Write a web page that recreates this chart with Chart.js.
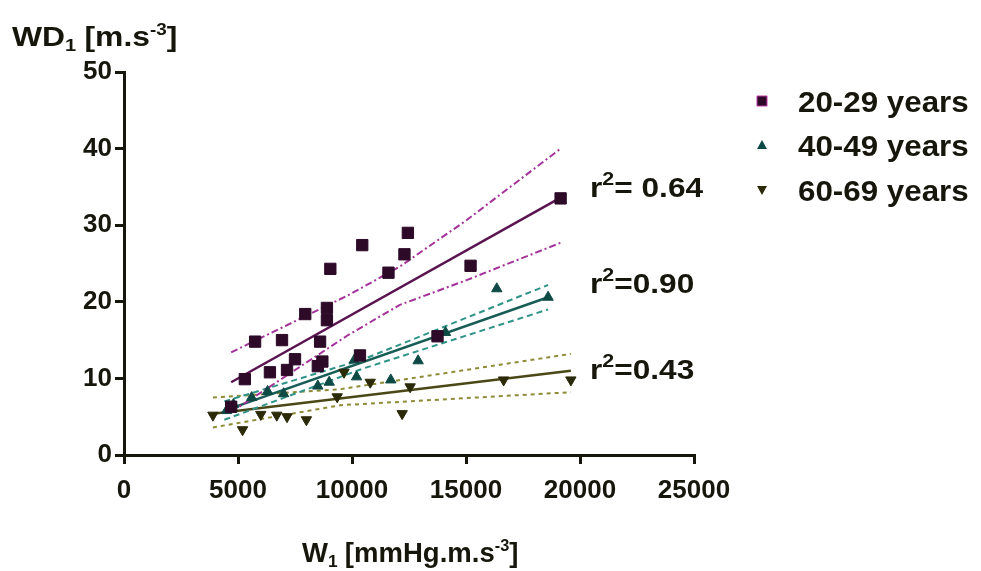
<!DOCTYPE html>
<html>
<head>
<meta charset="utf-8">
<script src="https://cdn.jsdelivr.net/npm/chart.js@4.4.1/dist/chart.umd.min.js"></script>
<style>
  body { margin: 0; background: #fff; }
  canvas { display: block; }
</style>
</head>
<body>
<canvas id="chart" width="981" height="571"></canvas>
<script>
// 20-29 years
let youngX = [4700, 5300, 5750, 6400, 6930, 7150, 7500, 7950, 8500, 8600, 8700, 8900, 8900, 9050, 10350, 10450, 11600, 12300, 12450, 13750, 15200, 19150];
let youngY = [6.3, 9.9, 14.8, 10.8, 15.0, 11.1, 12.5, 18.4, 11.6, 14.8, 12.2, 19.2, 17.6, 24.3, 13.0, 27.4, 23.8, 26.2, 29.0, 15.5, 24.7, 33.5];
// 40-49 years
let midX = [4500, 4800, 5600, 6300, 7000, 8500, 9000, 10100, 10200, 11700, 12900, 14100, 16350, 18600];
let midY = [5.8, 6.6, 7.5, 8.3, 8.0, 9.0, 9.5, 12.4, 10.2, 9.8, 12.3, 16.0, 21.7, 20.6];
// 60-69 years
let oldX = [3900, 5200, 6000, 6700, 7150, 8000, 9350, 9650, 10800, 12200, 12550, 16650, 19600];
let oldY = [5.2, 3.3, 5.3, 5.2, 5.0, 4.6, 7.6, 10.8, 9.5, 5.4, 8.9, 9.8, 9.8];

// regression lines and 95% bands
let youngFitX = [4700, 19150];
let youngFitY = [9.5, 33.6];
let youngBandX = [4700, 9800, 12100, 15000, 19150];
let youngUpper = [13.4, 20.8, 24.6, 30.6, 40.0];
let youngLower = [5.6, 15.6, 19.6, 22.8, 27.7];

let midFitX = [4400, 18600];
let midFitY = [5.8, 20.6];
let midBandX = [4400, 10500, 18600];
let midUpper = [7.0, 12.5, 22.2];
let midLower = [4.6, 11.3, 19.0];

let oldFitX = [3900, 19600];
let oldFitY = [5.4, 11.0];
let oldBandX = [3900, 9500, 19600];
let oldUpper = [7.5, 8.6, 13.2];
let oldLower = [3.6, 6.5, 8.2];

let groups = ["20-29 years", "40-49 years", "60-69 years"];
let r2Labels = ["= 0.64", "=0.90", "=0.43"];

const INK = "#16160c";
const FONT = "'Liberation Sans', Arial, sans-serif";

function pts(xs, ys) {
    return xs.map((x, i) => ({x: x, y: ys[i]}));
}

function markers(label, xs, ys, style, color, rot, radius) {
    return {
        label: label,
        data: pts(xs, ys),
        pointStyle: style,
        pointRotation: rot,
        pointRadius: radius,
        backgroundColor: color,
        borderColor: color,
        borderWidth: 1,
        showLine: false,
        order: 0
    };
}

function line(xs, ys, color, width, dash) {
    return {
        data: pts(xs, ys),
        showLine: true,
        borderColor: color,
        borderWidth: width,
        borderDash: dash,
        pointRadius: 0,
        fill: false,
        order: 1
    };
}

// draws runs of [text, size, dy] side by side, stretched a little horizontally like the scan
function runs(ctx, x, y, parts, sx) {
    ctx.save();
    ctx.translate(x, y);
    ctx.scale(sx, 1);
    let cx = 0;
    parts.forEach(p => {
        ctx.font = "bold " + p[1] + "px " + FONT;
        ctx.fillText(p[0], cx, p[2] || 0);
        cx += ctx.measureText(p[0]).width + (p[3] || 0);
    });
    ctx.restore();
}

const textPlugin = {
    id: "texts",
    afterDraw(chart) {
        let ctx = chart.ctx;
        ctx.save();
        ctx.fillStyle = INK;
        ctx.textBaseline = "alphabetic";
        ctx.textAlign = "left";

        runs(ctx, 12, 46, [["WD", 27], ["1", 17, 5, 7], ["[m.s", 27], ["-3", 16, -11], ["]", 27]], 1.18);
        runs(ctx, 302, 562, [["W", 27], ["1", 17, 5, 7], ["[mmHg.m.s", 27], ["-3", 16, -11], ["]", 27]], 1.02);

        let r2Y = [197, 293, 379];
        r2Labels.forEach((t, i) => {
            runs(ctx, 590, r2Y[i], [["r", 28], ["2", 19, -12], [t, 28]], 1.13);
        });

        let legY = [101, 145, 190];
        groups.forEach((g, i) => {
            let mx = 762, my = legY[i];
            ctx.beginPath();
            if (i == 0) {
                ctx.fillStyle = "#2c0a28";
                ctx.strokeStyle = "#c23aa8";
                ctx.lineWidth = 1;
                ctx.rect(mx - 5, my - 5, 10, 10);
                ctx.fill();
                ctx.stroke();
            } else if (i == 1) {
                ctx.fillStyle = "#0e4a45";
                ctx.moveTo(mx, my - 5);
                ctx.lineTo(mx + 5, my + 4);
                ctx.lineTo(mx - 5, my + 4);
                ctx.closePath();
                ctx.fill();
            } else {
                ctx.fillStyle = "#2a2908";
                ctx.moveTo(mx - 5, my - 4);
                ctx.lineTo(mx + 5, my - 4);
                ctx.lineTo(mx, my + 5);
                ctx.closePath();
                ctx.fill();
            }
            ctx.fillStyle = INK;
            runs(ctx, 798, my + 11, [[g, 29]], 1.08);
        });
        ctx.restore();
    }
};

let tickFont = {family: FONT, weight: "bold", size: 26};

new Chart(document.getElementById("chart"), {
    type: "scatter",
    data: {
        datasets: [
            markers(groups[0], youngX, youngY, "rect", "#2c0a28", 0, 8),
            markers(groups[1], midX, midY, "triangle", "#0e4a45", 0, 6),
            markers(groups[2], oldX, oldY, "triangle", "#2a2908", 180, 6),
            line(youngFitX, youngFitY, "#5a1550", 2.5, []),
            line(youngBandX, youngUpper, "#a5329a", 2, [7, 3, 2, 3]),
            line(youngBandX, youngLower, "#a5329a", 2, [7, 3, 2, 3]),
            line(midFitX, midFitY, "#175c55", 2.5, []),
            line(midBandX, midUpper, "#2f9488", 2, [6, 4]),
            line(midBandX, midLower, "#2f9488", 2, [6, 4]),
            line(oldFitX, oldFitY, "#4a4816", 2.5, []),
            line(oldBandX, oldUpper, "#8e8b35", 2, [4, 4]),
            line(oldBandX, oldLower, "#8e8b35", 2, [4, 4])
        ]
    },
    options: {
        responsive: false,
        animation: false,
        devicePixelRatio: 1,
        layout: {padding: {top: 72, right: 287, left: 0, bottom: 0}},
        plugins: {
            legend: {display: false},
            tooltip: {enabled: false}
        },
        scales: {
            x: {
                type: "linear",
                min: 0,
                max: 25000,
                afterFit: s => { s.height = 116; },
                ticks: {stepSize: 5000, font: tickFont, color: INK, padding: 11, callback: v => String(v)},
                grid: {drawOnChartArea: false, color: INK, lineWidth: 3, tickLength: 9},
                border: {color: INK, width: 3}
            },
            y: {
                min: 0,
                max: 50,
                afterFit: s => { s.width = 124; },
                ticks: {stepSize: 10, font: tickFont, color: INK, padding: 3, callback: v => String(v)},
                grid: {drawOnChartArea: false, color: INK, lineWidth: 3, tickLength: 9},
                border: {color: INK, width: 3}
            }
        }
    },
    plugins: [textPlugin]
});
</script>
</body>
</html>
